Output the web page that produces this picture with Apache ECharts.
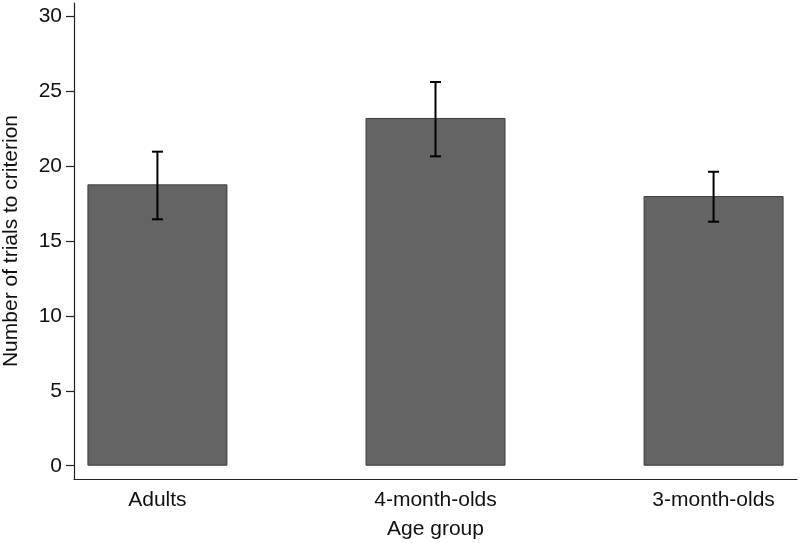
<!DOCTYPE html>
<html><head><meta charset="utf-8">
<script src="https://cdn.jsdelivr.net/npm/echarts@6/dist/echarts.min.js"></script>
<style>html,body{margin:0;padding:0;background:#fff}#c{width:800px;height:543px}</style>
</head><body><div id="c"></div>
<script>
const categories = ["Adults", "4-month-olds", "3-month-olds"];
const means = [18.77, 23.2, 17.99];
const errLow = [16.44, 20.64, 16.28];
const errHigh = [20.95, 25.6, 19.61];
const yTicks = [0, 5, 10, 15, 20, 25, 30];

const chart = echarts.init(document.getElementById('c'), null, {renderer: 'canvas'});
const font = 'Liberation Sans, Arial, Helvetica, sans-serif';
const barData = categories.map((c, i) => [i + 1, means[i]]);
const errData = categories.map((c, i) => [i + 1, errLow[i], errHigh[i]]);

chart.setOption({
  animation: false,
  backgroundColor: '#fff',
  grid: {left: 74, right: 3, top: 3, bottom: 64, containLabel: false, outerBoundsMode: 'none'},
  xAxis: {
    type: 'value', min: 0.7, max: 3.3,
    name: 'Age group', nameLocation: 'middle', nameGap: 40,
    nameTextStyle: {fontFamily: font, fontSize: 21, color: '#111'},
    axisLine: {show: true, onZero: false, lineStyle: {color: '#222', width: 1.2}},
    axisTick: {show: false},
    splitLine: {show: false},
    axisLabel: {
      customValues: [1, 2, 3],
      formatter: v => categories[Math.round(v) - 1] || '',
      fontFamily: font, fontSize: 21, color: '#111', margin: 11
    }
  },
  yAxis: {
    type: 'value', min: -0.887, max: 30.87,
    name: 'Number of trials to criterion', nameLocation: 'middle', nameGap: 52,
    nameTextStyle: {fontFamily: font, fontSize: 21, color: '#111'},
    axisLine: {show: true, onZero: false, lineStyle: {color: '#222', width: 1.2}},
    axisTick: {show: true, customValues: yTicks, length: 8, lineStyle: {color: '#222', width: 1.2}},
    splitLine: {show: false},
    axisLabel: {customValues: yTicks, fontFamily: font, fontSize: 21, color: '#111', margin: 12}
  },
  series: [
    {
      type: 'bar', data: barData, barWidth: 140,
      itemStyle: {color: '#646464', borderColor: '#3c3c3c', borderWidth: 1}
    },
    {
      type: 'custom', data: errData,
      renderItem: (params, api) => {
        const x = api.value(0);
        const lo = api.coord([x, api.value(1)]);
        const hi = api.coord([x, api.value(2)]);
        const hw = 5.5;
        const st = {stroke: '#000', lineWidth: 2};
        return {type: 'group', children: [
          {type: 'line', shape: {x1: lo[0], y1: lo[1], x2: hi[0], y2: hi[1]}, style: st},
          {type: 'line', shape: {x1: lo[0] - hw, y1: lo[1], x2: lo[0] + hw, y2: lo[1]}, style: st},
          {type: 'line', shape: {x1: hi[0] - hw, y1: hi[1], x2: hi[0] + hw, y2: hi[1]}, style: st}
        ]};
      },
      z: 10
    }
  ]
});
</script></body></html>
